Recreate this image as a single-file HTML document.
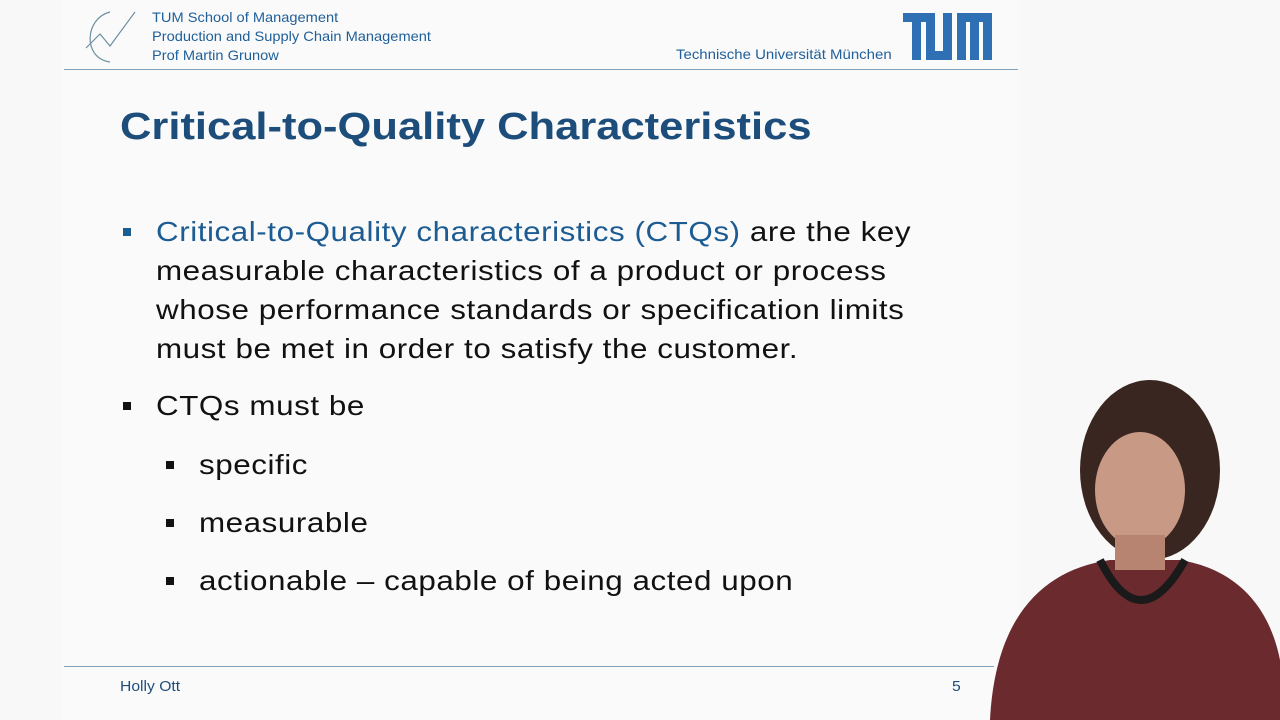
<!DOCTYPE html>
<html><head><meta charset="utf-8">
<style>
body{margin:0;width:1280px;height:720px;overflow:hidden;background:#f8f8f8;font-family:"Liberation Sans",sans-serif;position:relative}
.a{position:absolute}
.hd{color:#1f5f9a;font-size:14px;line-height:19px;transform:scaleX(1.045);transform-origin:left top;white-space:nowrap}
.body{font-size:28px;color:#111;letter-spacing:0.5px;white-space:nowrap;transform:scaleX(1.12);transform-origin:left top}
.bl{width:8px;height:8px;background:#111}
</style></head><body>
<div class="a" style="left:62px;top:0;width:958px;height:720px;background:#fafafa"></div>
<svg class="a" style="left:80px;top:8px" width="60" height="58">
<path d="M30 4 C5 10 2 50 30 54" fill="none" stroke="#6e8fa0" stroke-width="1.2"/>
<path d="M6 40 L20 26 L30 38 L55 4" fill="none" stroke="#6e8fa0" stroke-width="1.2"/>
</svg>
<div class="a hd" style="left:152px;top:8px">TUM School of Management<br>Production and Supply Chain Management<br>Prof Martin Grunow</div>
<div class="a hd" style="left:676px;top:45px;transform:scaleX(1.07)">Technische Universität München</div>
<svg class="a" style="left:903px;top:13px" width="89" height="47">
<rect x="0" y="0" width="27" height="9" fill="#2f6fb4"/>
<rect x="9" y="0" width="9" height="47" fill="#2f6fb4"/>
<rect x="23" y="0" width="9" height="47" fill="#2f6fb4"/>
<rect x="23" y="38" width="26" height="9" fill="#2f6fb4"/>
<rect x="40" y="0" width="9" height="47" fill="#2f6fb4"/>
<rect x="54" y="0" width="35" height="9" fill="#2f6fb4"/>
<rect x="54" y="0" width="9" height="47" fill="#2f6fb4"/>
<rect x="67" y="0" width="9" height="47" fill="#2f6fb4"/>
<rect x="80" y="0" width="9" height="47" fill="#2f6fb4"/>
</svg>
<div class="a" style="left:64px;top:69px;width:954px;height:1px;background:#7fa3bf"></div>
<div class="a" style="left:120px;top:106px;font-size:38px;font-weight:bold;color:#1d4e7b;white-space:nowrap;transform:scaleX(1.145);transform-origin:left top">Critical-to-Quality Characteristics</div>
<div class="a bl" style="left:123px;top:228px;background:#1d5c92"></div>
<div class="a body" style="left:156px;top:212px;line-height:39px"><span style="color:#1d5c92">Critical-to-Quality characteristics (CTQs)</span> are the key<br>measurable characteristics of a product or process<br>whose performance standards or specification limits<br>must be met in order to satisfy the customer.</div>
<div class="a bl" style="left:123px;top:402px"></div>
<div class="a body" style="left:156px;top:390px">CTQs must be</div>
<div class="a bl" style="left:166px;top:461px"></div>
<div class="a body" style="left:199px;top:449px">specific</div>
<div class="a bl" style="left:166px;top:519px"></div>
<div class="a body" style="left:199px;top:507px">measurable</div>
<div class="a bl" style="left:166px;top:577px"></div>
<div class="a body" style="left:199px;top:565px">actionable – capable of being acted upon</div>
<div class="a" style="left:64px;top:666px;width:930px;height:1px;background:#7fa3bf"></div>
<div class="a hd" style="left:120px;top:677px;font-size:15px;color:#1d4e7b">Holly Ott</div>
<div class="a hd" style="left:952px;top:677px;font-size:15px;color:#1d4e7b">5</div>
<svg class="a" style="left:980px;top:370px" width="300" height="350">
<path d="M10 350 C15 250 60 200 130 190 L200 190 C260 200 290 240 300 290 L300 350 Z" fill="#6b2a2e"/>
<ellipse cx="170" cy="100" rx="70" ry="90" fill="#3a2621"/>
<ellipse cx="160" cy="120" rx="45" ry="58" fill="#c89a86"/>
<rect x="135" y="165" width="50" height="35" fill="#b88472"/>
<path d="M120 190 Q160 270 205 190" fill="none" stroke="#1a1a1a" stroke-width="8"/>
</svg>
</body></html>
